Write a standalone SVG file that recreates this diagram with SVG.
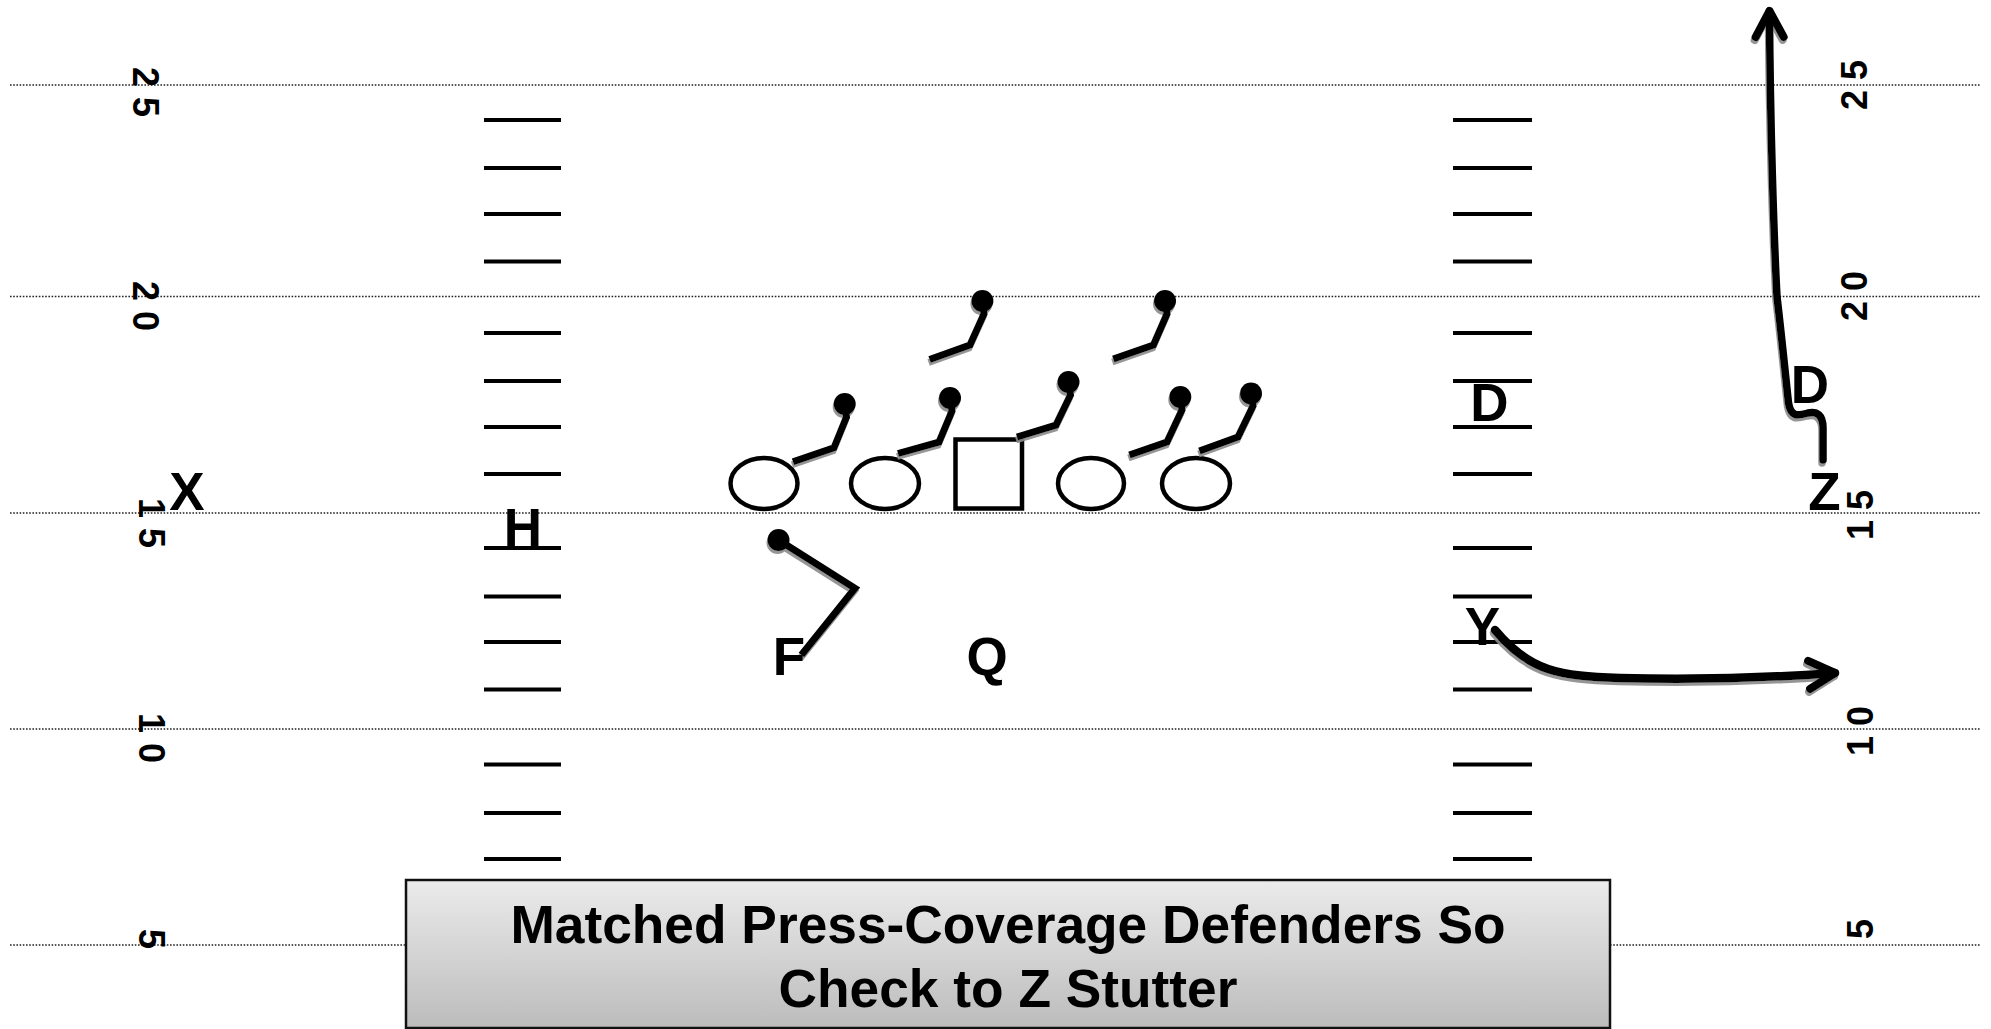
<svg xmlns="http://www.w3.org/2000/svg" width="1991" height="1029" viewBox="0 0 1991 1029">
<defs>
<linearGradient id="boxGrad" x1="0" y1="0" x2="0" y2="1">
<stop offset="0" stop-color="#ebebeb"/>
<stop offset="1" stop-color="#bcbcbc"/>
</linearGradient>
<filter id="shadow" filterUnits="userSpaceOnUse" x="0" y="0" width="1991" height="1029">
<feDropShadow dx="-1" dy="3" stdDeviation="0.6" flood-color="#8a8a8a" flood-opacity="0.9"/>
</filter>
<marker id="chev" viewBox="-40 -25 50 50" refX="0" refY="0" markerWidth="50" markerHeight="50" markerUnits="userSpaceOnUse" orient="auto">
<path d="M -26 -14 L 0 0 L -26 14" fill="none" stroke="#000" stroke-width="8" stroke-linecap="round" stroke-linejoin="round"/>
</marker>
<style>
.yl{fill:none;stroke:#222;stroke-width:1.4;stroke-dasharray:1.6 1.6}
.hash{stroke:#000;stroke-width:4.2}
.txt{font-family:"Liberation Sans",Arial,Helvetica,sans-serif;font-weight:bold;fill:#000}
.lbl{font-size:53px;text-anchor:middle}
.num{font-size:36px}
.title{font-size:53.3px;text-anchor:middle}
.ol{fill:#fff;stroke:#000;stroke-width:4.5}
.def{filter:url(#shadow)}
.def path{fill:none;stroke:#000;stroke-width:7;stroke-linejoin:miter}
.def circle{fill:#000}
.route{fill:none;stroke:#000;stroke-linecap:round;stroke-linejoin:round;marker-end:url(#chev)}
</style>
</defs>
<rect width="1991" height="1029" fill="#fff"/>

<g id="yard-lines">
<line class="yl" x1="10" y1="85" x2="1980" y2="85"/>
<line class="yl" x1="10" y1="296.5" x2="1980" y2="296.5"/>
<line class="yl" x1="10" y1="513" x2="1980" y2="513"/>
<line class="yl" x1="10" y1="729" x2="1980" y2="729"/>
<line class="yl" x1="10" y1="945" x2="1980" y2="945"/>
</g>

<g id="hash-left">
<line class="hash" x1="484" x2="561" y1="120" y2="120"/>
<line class="hash" x1="484" x2="561" y1="168" y2="168"/>
<line class="hash" x1="484" x2="561" y1="214" y2="214"/>
<line class="hash" x1="484" x2="561" y1="261.5" y2="261.5"/>
<line class="hash" x1="484" x2="561" y1="333" y2="333"/>
<line class="hash" x1="484" x2="561" y1="381" y2="381"/>
<line class="hash" x1="484" x2="561" y1="427" y2="427"/>
<line class="hash" x1="484" x2="561" y1="474" y2="474"/>
<line class="hash" x1="484" x2="561" y1="548" y2="548"/>
<line class="hash" x1="484" x2="561" y1="596.5" y2="596.5"/>
<line class="hash" x1="484" x2="561" y1="642" y2="642"/>
<line class="hash" x1="484" x2="561" y1="689.5" y2="689.5"/>
<line class="hash" x1="484" x2="561" y1="764.5" y2="764.5"/>
<line class="hash" x1="484" x2="561" y1="813" y2="813"/>
<line class="hash" x1="484" x2="561" y1="859" y2="859"/>
</g>
<g id="hash-right">
<line class="hash" x1="1453" x2="1532" y1="120" y2="120"/>
<line class="hash" x1="1453" x2="1532" y1="168" y2="168"/>
<line class="hash" x1="1453" x2="1532" y1="214" y2="214"/>
<line class="hash" x1="1453" x2="1532" y1="261.5" y2="261.5"/>
<line class="hash" x1="1453" x2="1532" y1="333" y2="333"/>
<line class="hash" x1="1453" x2="1532" y1="381" y2="381"/>
<line class="hash" x1="1453" x2="1532" y1="427" y2="427"/>
<line class="hash" x1="1453" x2="1532" y1="474" y2="474"/>
<line class="hash" x1="1453" x2="1532" y1="548" y2="548"/>
<line class="hash" x1="1453" x2="1532" y1="596.5" y2="596.5"/>
<line class="hash" x1="1453" x2="1532" y1="642" y2="642"/>
<line class="hash" x1="1453" x2="1532" y1="689.5" y2="689.5"/>
<line class="hash" x1="1453" x2="1532" y1="764.5" y2="764.5"/>
<line class="hash" x1="1453" x2="1532" y1="813" y2="813"/>
<line class="hash" x1="1453" x2="1532" y1="859" y2="859"/>
</g>

<g id="yard-numbers-left" class="txt num">
<text transform="translate(132.5,67) rotate(90)">2 5</text>
<text transform="translate(132.5,281) rotate(90)">2 0</text>
<text transform="translate(138.5,498) rotate(90)">1 5</text>
<text transform="translate(138.5,713) rotate(90)">1 0</text>
<text transform="translate(138.5,929) rotate(90)">5</text>
</g>
<g id="yard-numbers-right" class="txt num">
<text transform="translate(1867,110) rotate(-90)">2 5</text>
<text transform="translate(1867,321) rotate(-90)">2 0</text>
<text transform="translate(1873,540) rotate(-90)">1 5</text>
<text transform="translate(1873,756) rotate(-90)">1 0</text>
<text transform="translate(1873,939) rotate(-90)">5</text>
</g>

<g id="connectors" filter="url(#shadow)">
<path id="route-z" class="route" stroke-width="7.5" d="M 1823 460 L 1823 428 C 1823 415 1817 411 1808 413 C 1797 416 1791 417 1788.5 403 C 1786.5 385 1781 330 1777 297 C 1774 240 1770 120 1769.5 11"/>
<path id="route-y" class="route" stroke-width="8.5" d="M 1495 630 C 1530 672 1560 676 1620 678 C 1700 680 1780 677 1835 673"/>
</g>

<g id="node-lg"><ellipse class="ol" cx="764" cy="483.5" rx="33.5" ry="25.5"/></g>
<g id="node-lt"><ellipse class="ol" cx="885" cy="483.5" rx="34" ry="25.5"/></g>
<g id="node-c"><rect class="ol" x="955.5" y="439.5" width="66.5" height="69"/></g>
<g id="node-rg"><ellipse class="ol" cx="1091" cy="483.5" rx="33" ry="25.5"/></g>
<g id="node-rt"><ellipse class="ol" cx="1196" cy="483.5" rx="34" ry="25.5"/></g>

<g id="def-1" class="def"><path d="M 844.7 404 L 846.5 417 L 834 447.7 L 793 461.7"/><circle cx="844.7" cy="404" r="11"/></g>
<g id="def-2" class="def"><path d="M 950 398 L 952 411 L 939 442 L 898 453.5"/><circle cx="950" cy="398" r="11"/></g>
<g id="def-3" class="def"><path d="M 1068.5 382 L 1070.5 395 L 1056 425 L 1017 437"/><circle cx="1068.5" cy="382" r="11"/></g>
<g id="def-4" class="def"><path d="M 1180.3 397 L 1182 410 L 1167 442 L 1129.4 455"/><circle cx="1180.3" cy="397" r="11"/></g>
<g id="def-5" class="def"><path d="M 1251 393.5 L 1253 406 L 1238 437 L 1199.4 451"/><circle cx="1251" cy="393.5" r="11"/></g>
<g id="def-lb1" class="def"><path d="M 982.4 301 L 984 314 L 970 345 L 929.6 359.5"/><circle cx="982.4" cy="301" r="11"/></g>
<g id="def-lb2" class="def"><path d="M 1165 301 L 1167 314 L 1153.5 345 L 1113.3 359"/><circle cx="1165" cy="301" r="11"/></g>
<g id="def-f" class="def"><path d="M 778.5 540 L 855 588.3 L 801.4 655"/><circle cx="778.5" cy="540" r="11"/></g>

<g id="node-x"><text class="txt lbl" x="187" y="510">X</text></g>
<g id="node-h"><text class="txt lbl" x="523" y="546">H</text></g>
<g id="node-f"><text class="txt lbl" x="789" y="675">F</text></g>
<g id="node-q"><text class="txt lbl" x="987" y="675">Q</text></g>
<g id="node-d1"><text class="txt lbl" x="1489.5" y="421">D</text></g>
<g id="node-d2"><text class="txt lbl" x="1810" y="403">D</text></g>
<g id="node-z"><text class="txt lbl" x="1824.5" y="510">Z</text></g>
<g id="node-y"><text class="txt lbl" x="1482.5" y="645">Y</text></g>

<g id="title-box">
<rect x="406" y="880" width="1204" height="148" fill="url(#boxGrad)" stroke="#111" stroke-width="2.5"/>
<text class="txt title" x="1008" y="943">Matched Press-Coverage Defenders So</text>
<text class="txt title" x="1008" y="1006.5">Check to Z Stutter</text>
</g>
</svg>
